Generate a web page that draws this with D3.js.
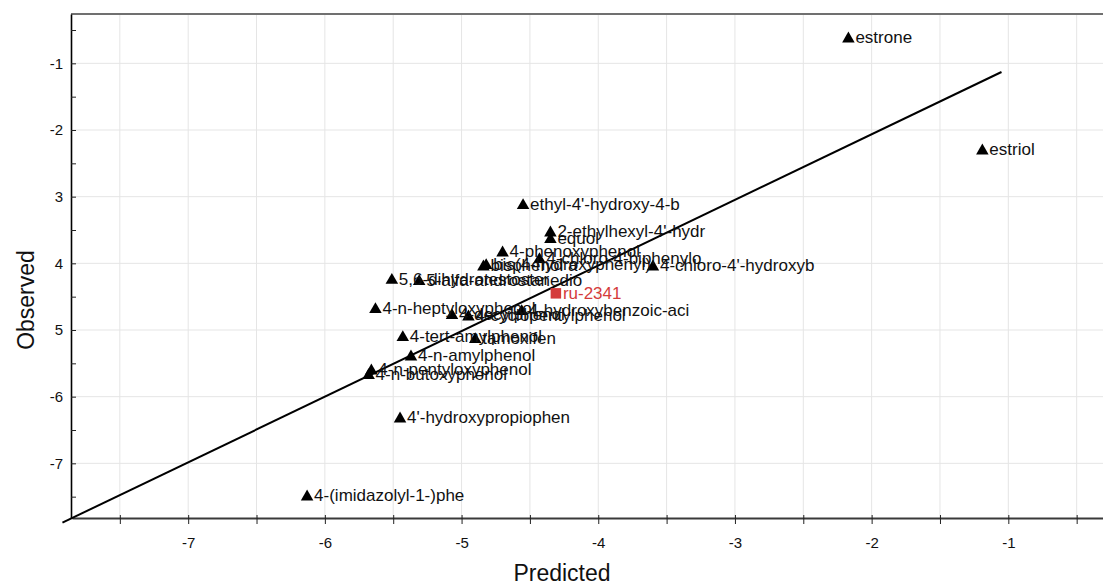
<!DOCTYPE html>
<html>
<head>
<meta charset="utf-8">
<script src="https://cdn.jsdelivr.net/npm/d3@7"></script>
<style>
  body { margin: 0; background: #fff; }
  text { font-family: "Liberation Sans", Arial, Helvetica, sans-serif; }
</style>
</head>
<body>
<svg id="chart" width="1103" height="585"></svg>
<script>
// Compound names (labels are cut to 20 characters, as in the source table)
const compounds = [
  "estrone", "estriol", "ethyl-4'-hydroxy-4-b", "2-ethylhexyl-4'-hydr", "equol",
  "4-phenoxyphenol", "4-chloro-4-biphenylo", "bisphenol a", "bis(4-hydroxyphenyl)",
  "4-chloro-4'-hydroxyb", "5,6-dihydrotestoster", "5-alfa-androstanedio", "ru-2341",
  "4-n-heptyloxyphenol", "4-decylphenol", "4-cyclopentylphenol", "4-hydroxybenzoic-aci",
  "4-tert-amylphenol", "tamoxifen", "4-n-amylphenol", "4-n-pentyloxyphenol",
  "4-n-butoxyphenol", "4'-hydroxypropiophen", "4-(imidazolyl-1-)phe"
];
const predicted = [
  -2.17, -1.19, -4.55, -4.35, -4.35,
  -4.70, -4.43, -4.84, -4.82,
  -3.60, -5.51, -5.31, -4.31,
  -5.63, -5.07, -4.95, -4.56,
  -5.43, -4.90, -5.37, -5.66,
  -5.68, -5.45, -6.13
];
const observed = [
  -0.61, -2.29, -3.11, -3.52, -3.62,
  -3.82, -3.92, -4.03, -4.01,
  -4.03, -4.23, -4.25, -4.45,
  -4.67, -4.76, -4.78, -4.70,
  -5.09, -5.12, -5.38, -5.59,
  -5.66, -6.31, -7.48
];
// Test-set compound drawn as a red square, the rest as triangles
const testSet = ["ru-2341"];

// Reference line end points
const lineX = [-7.92, -1.05];
const lineY = [-7.89, -1.13];

// Axis ticks
const xMajorTicks = [-7, -6, -5, -4, -3, -2, -1];
const xTickLabels = ["-7", "-6", "-5", "-4", "-3", "-2", "-1"];
const xMinorTicks = [-7.5, -6.5, -5.5, -4.5, -3.5, -2.5, -1.5, -0.5];
const yMajorTicks = [-1, -2, -3, -4, -5, -6, -7];
const yTickLabels = ["-1", "-2", "3", "4", "5", "-6", "-7"];
const yMinorTicks = [-0.5, -1.5, -2.5, -3.5, -4.5, -5.5, -6.5, -7.5];

const svg = d3.select("#chart");
const plotL = 72, plotR = 1104, plotT = 14, plotB = 518;

const x = d3.scaleLinear().domain([-7.85, -0.3]).range([plotL, plotR]);
const y = d3.scaleLinear().domain([-7.82, -0.26]).range([plotB, plotT]);

// Grid
const grid = svg.append("g").attr("stroke", "#e5e5e5").attr("stroke-width", 1);
grid.selectAll("line.v").data(xMajorTicks.concat(xMinorTicks)).join("line")
  .attr("class", "v")
  .attr("x1", d => x(d)).attr("x2", d => x(d))
  .attr("y1", plotT).attr("y2", plotB);
grid.selectAll("line.h").data(yMajorTicks).join("line")
  .attr("class", "h")
  .attr("x1", plotL).attr("x2", plotR)
  .attr("y1", d => y(d)).attr("y2", d => y(d));

// Top frame edge
svg.append("line")
  .attr("x1", plotL - 1).attr("x2", plotR)
  .attr("y1", plotT).attr("y2", plotT)
  .attr("stroke", "#707070").attr("stroke-width", 2);

// X axis
const xLabelMap = new Map(xMajorTicks.map((v, i) => [v, xTickLabels[i]]));
const xAxis = svg.append("g")
  .attr("transform", `translate(0,${plotB})`)
  .call(d3.axisBottom(x)
    .tickValues(xMajorTicks.concat(xMinorTicks))
    .tickFormat(d => xLabelMap.get(d) || "")
    .tickSizeInner(6).tickSizeOuter(0).tickPadding(13));
xAxis.select(".domain").attr("stroke", "#3a3a3a").attr("stroke-width", 2.2);
xAxis.selectAll(".tick line").attr("y1", -3).attr("stroke", "#222");
xAxis.selectAll(".tick text").attr("font-size", 15).attr("fill", "#111")
  .style("font-family", '"Liberation Sans", Arial, sans-serif');

// Y axis
const yLabelMap = new Map(yMajorTicks.map((v, i) => [v, yTickLabels[i]]));
const yAxis = svg.append("g")
  .attr("transform", `translate(${plotL - 1},0)`)
  .call(d3.axisLeft(y)
    .tickValues(yMajorTicks.concat(yMinorTicks))
    .tickFormat(d => yLabelMap.get(d) || "")
    .tickSizeInner(3).tickSizeOuter(0).tickPadding(5));
yAxis.select(".domain").attr("stroke", "#000").attr("stroke-width", 1.6);
yAxis.selectAll(".tick line").attr("x2", 5).attr("stroke", "#222");
yAxis.selectAll(".tick text").attr("font-size", 15).attr("fill", "#111")
  .style("font-family", '"Liberation Sans", Arial, sans-serif');

// Reference line
svg.append("line")
  .attr("x1", x(lineX[0])).attr("y1", y(lineY[0]))
  .attr("x2", x(lineX[1])).attr("y2", y(lineY[1]))
  .attr("stroke", "#000").attr("stroke-width", 2);

// Points and labels
const pts = compounds.map((name, i) => ({
  name, px: predicted[i], ob: observed[i], test: testSet.includes(name)
}));
const red = "#d43b3b";
const tri = d3.symbol(d3.symbolTriangle, 68)();
const sq = d3.symbol(d3.symbolSquare, 110)();

const gp = svg.append("g");
gp.selectAll("path").data(pts).join("path")
  .attr("d", d => d.test ? sq : tri)
  .attr("transform", d => `translate(${x(d.px)},${y(d.ob) + (d.test ? 0 : 1.5)})`)
  .attr("fill", d => d.test ? red : "#000");
gp.selectAll("text").data(pts).join("text")
  .attr("x", d => x(d.px) + 7)
  .attr("y", d => y(d.ob) + 6)
  .attr("font-size", 17)
  .attr("fill", d => d.test ? red : "#111")
  .text(d => d.name);

// Axis titles
svg.append("text")
  .attr("x", 562).attr("y", 581)
  .attr("text-anchor", "middle").attr("font-size", 23).attr("fill", "#111")
  .text("Predicted");
svg.append("text")
  .attr("transform", `translate(34,300) rotate(-90)`)
  .attr("text-anchor", "middle").attr("font-size", 23).attr("fill", "#111")
  .text("Observed");
</script>
</body>
</html>
